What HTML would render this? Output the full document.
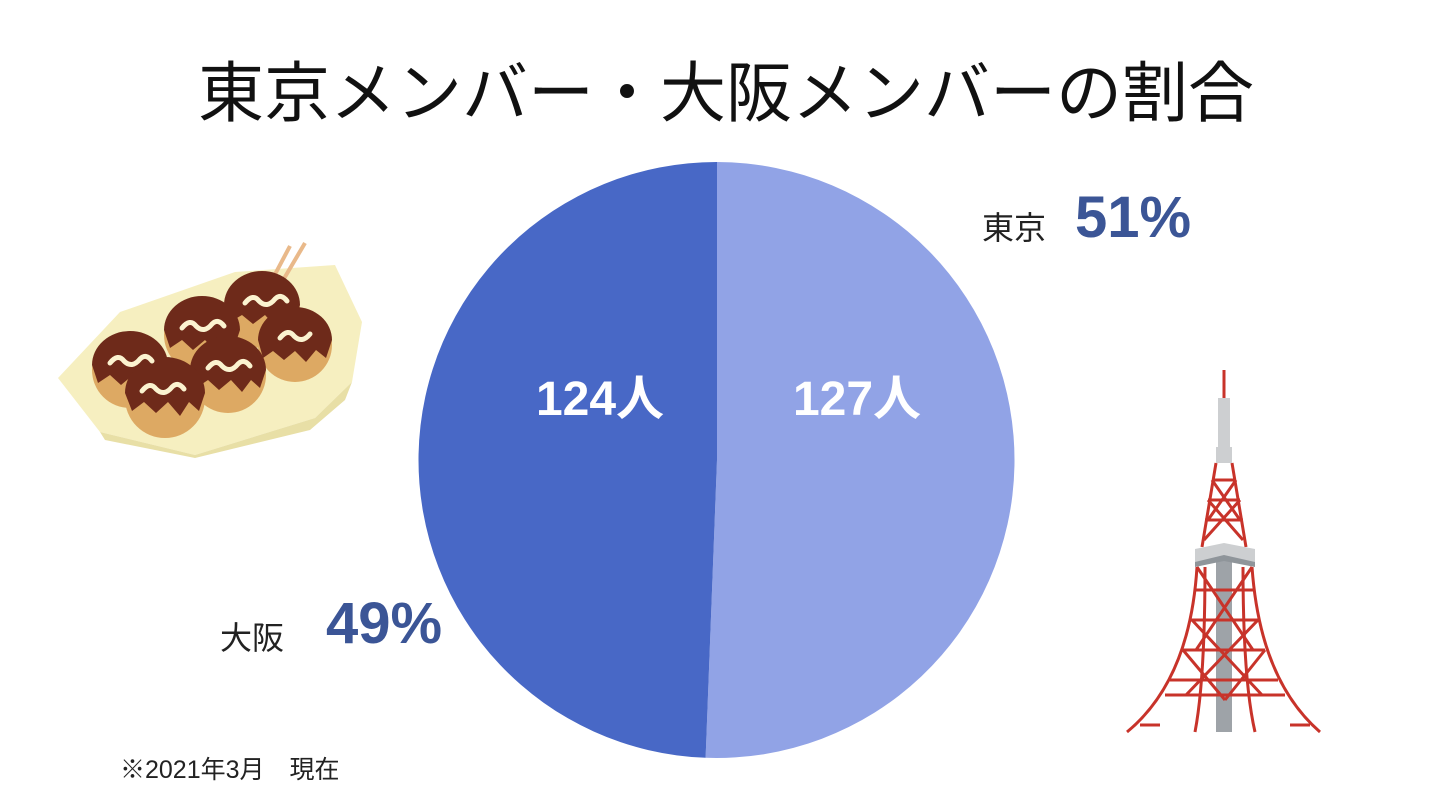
<!DOCTYPE html>
<html><head><meta charset="utf-8"><style>
html,body{margin:0;padding:0;background:#fff;}
body{width:1440px;height:806px;position:relative;overflow:hidden;font-family:"Liberation Sans","Noto Sans CJK JP",sans-serif;}
.t{position:absolute;white-space:nowrap;}
</style></head><body>
<div class="t" style="left:0;width:1440px;top:40px;text-align:center;font-size:66px;color:#111;padding-left:12px;box-sizing:border-box">東京メンバー・大阪メンバーの割合</div>
<svg width="1440" height="806" style="position:absolute;left:0;top:0">
<path d="M717,460 L717,162 A298,298 0 1,1 705.6,757.8 Z" fill="#91A3E6"/>
<path d="M717,460 L705.6,757.8 A298,298 0 0,1 717,162 Z" fill="#4868C6"/>
<text x="600" y="415" font-size="48" font-weight="bold" fill="#fff" text-anchor="middle" font-family="Liberation Sans,Noto Sans CJK JP,sans-serif">124人</text>
<text x="857" y="415" font-size="48" font-weight="bold" fill="#fff" text-anchor="middle" font-family="Liberation Sans,Noto Sans CJK JP,sans-serif">127人</text>
<!-- takoyaki -->
<polygon points="58,378 120,312 235,272 335,265 362,322 352,382 315,418 195,455 100,432" fill="#F6EFC0"/>
<polygon points="100,432 195,455 315,418 352,382 345,400 310,430 195,458 105,440" fill="#E8DFA6"/>
<line x1="272" y1="280" x2="290" y2="246" stroke="#E9B98A" stroke-width="4"/>
<line x1="282" y1="282" x2="305" y2="243" stroke="#E9B98A" stroke-width="4"/>
<g>
<circle cx="262" cy="310" r="38" fill="#DDA963"/><path d="M224,305 A38,34 0 0,1 300,305 L294,322 L285,315 L276,327 L265,315 L253,324 L242,315 L230,322Z" fill="#6E2A1A"/>
<circle cx="295" cy="345" r="37" fill="#DDA963"/><path d="M258,340 A37,33 0 0,1 332,340 L326,358 L316,350 L306,362 L295,351 L284,360 L273,351 L263,358Z" fill="#6E2A1A"/>
<circle cx="202" cy="335" r="38" fill="#DDA963"/><path d="M164,330 A38,34 0 0,1 240,330 L234,348 L225,340 L216,352 L205,340 L193,350 L182,340 L170,348Z" fill="#6E2A1A"/>
<circle cx="130" cy="370" r="38" fill="#DDA963"/><path d="M92,365 A38,34 0 0,1 168,365 L162,383 L153,375 L144,387 L133,375 L121,385 L110,375 L98,383Z" fill="#6E2A1A"/>
<circle cx="228" cy="375" r="38" fill="#DDA963"/><path d="M190,370 A38,34 0 0,1 266,370 L260,388 L251,380 L242,392 L231,380 L219,390 L208,380 L196,388Z" fill="#6E2A1A"/>
<circle cx="165" cy="398" r="40" fill="#DDA963"/><path d="M125,393 A40,36 0 0,1 205,393 L199,411 L189,402 L180,416 L168,402 L156,413 L144,402 L132,411Z" fill="#6E2A1A"/>
<g fill="none" stroke="#FBF3D0" stroke-width="5" stroke-linecap="round">
<path d="M245,303 q8,-10 14,-2 q8,8 16,-2 q6,-6 12,2"/><path d="M280,338 q8,-10 14,-2 q8,8 16,-2"/>
<path d="M182,328 q8,-10 14,-2 q8,8 16,-2 q6,-6 12,2"/><path d="M110,363 q8,-10 14,-2 q8,8 16,-2 q6,-6 12,2"/>
<path d="M208,368 q8,-10 14,-2 q8,8 16,-2 q6,-6 12,2"/><path d="M142,391 q8,-10 14,-2 q8,8 16,-2 q6,-6 12,2"/>
</g></g>
<!-- tower -->
<line x1="1224" y1="370" x2="1224" y2="400" stroke="#C8332A" stroke-width="3"/>
<rect x="1218" y="398" width="12" height="50" fill="#CDCFD1"/>
<rect x="1216" y="447" width="16" height="16" fill="#CDCFD1"/>
<rect x="1216" y="560" width="16" height="172" fill="#9EA3A8"/>
<g fill="none" stroke="#C8332A" stroke-width="3">
<path d="M1216,463 L1202,547 M1232,463 L1246,547"/>
<path d="M1212,480 h24 M1208,500 h32 M1205,520 h38 M1212,480 L1240,520 M1236,480 L1208,520 M1208,500 L1243,540 M1240,500 L1204,540"/>
<path d="M1197,567 Q1190,680 1127,732 M1252,567 Q1260,680 1320,732 M1205,567 Q1205,680 1195,732 M1243,567 Q1243,680 1255,732"/>
<path d="M1140,725 h20 M1290,725 h20"/>
<path d="M1195,590 h58 M1190,620 h68 M1183,650 h82 M1170,680 h108 M1165,695 h60 M1225,695 h60"/>
<path d="M1197,567 L1253,650 M1252,567 L1196,650 M1192,620 L1262,695 M1258,620 L1186,695 M1183,650 L1225,700 M1265,650 L1225,700"/>
</g>
<path d="M1195,549 L1224,543 L1255,549 L1255,565 L1224,558 L1195,565Z" fill="#CDCFD1"/>
<path d="M1195,562 L1224,555 L1255,562 L1255,567 L1224,561 L1195,567Z" fill="#8F959A"/>
</svg>
<div class="t" style="left:982px;top:203px;font-size:32px;color:#222">東京</div>
<div class="t" style="left:1075px;top:184px;font-size:58px;font-weight:bold;color:#3B5596">51%</div>
<div class="t" style="left:220px;top:613px;font-size:32px;color:#222">大阪</div>
<div class="t" style="left:326px;top:590px;font-size:58px;font-weight:bold;color:#3B5596">49%</div>
<div class="t" style="left:120px;top:750px;font-size:25px;color:#222">※2021年3月　現在</div>
</body></html>
